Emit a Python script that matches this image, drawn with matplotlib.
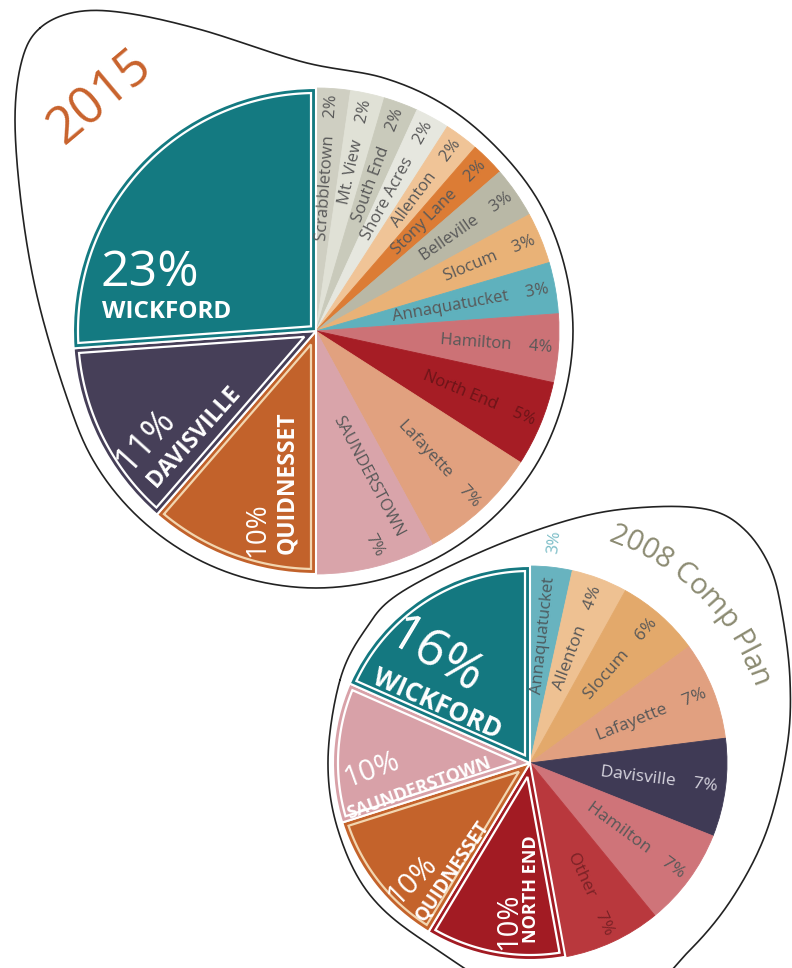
import numpy as np
import matplotlib
matplotlib.use('Agg')
import matplotlib.pyplot as plt
from matplotlib.patches import Polygon
from matplotlib.textpath import TextToPath
from matplotlib.font_manager import FontProperties

W, H = 792, 968
FONT = ['Open Sans', 'DejaVu Sans']

# 2015 shares by village (clockwise from 12 o'clock)
names_15 = ['Scrabbletown', 'Mt. View', 'South End', 'Shore Acres', 'Allenton',
            'Stony Lane', 'Belleville', 'Slocum', 'Annaquatucket', 'Hamilton',
            'North End', 'Lafayette', 'Saunderstown', 'Quidnesset', 'Davisville',
            'Wickford']
pct_15 = [2, 2, 2, 2, 2, 2, 3, 3, 3, 4, 5, 7, 7, 10, 11, 23]
colors_15 = ['#cfcfc2', '#e0e1d6', '#c9cabb', '#e6e7df', '#f0c497', '#dc7c35',
             '#b9b8a6', '#e9b277', '#5fb1bd', '#cc7276', '#a61d25', '#e1a17f',
             '#d9a4aa', '#c2622b', '#463f58', '#147a81']
big_15 = ['Quidnesset', 'Davisville', 'Wickford']

# 2008 Comp Plan shares
names_08 = ['Annaquatucket', 'Allenton', 'Slocum', 'Lafayette', 'Davisville',
            'Hamilton', 'Other', 'North End', 'Quidnesset', 'Saunderstown',
            'Wickford']
pct_08 = [3, 4, 6, 7, 7, 7, 7, 10, 10, 10, 16]
colors_08 = ['#68b3bf', '#eec192', '#e3a96b', '#e1a080', '#3f3a55', '#cf7479',
             '#b9383d', '#a21b23', '#c4632b', '#d8a1a8', '#147880']
big_08 = ['North End', 'Quidnesset', 'Saunderstown', 'Wickford']


def P(x, y):
    # pixel position (y down) -> data coords (y up)
    return x, H - y


def smooth_closed(pts, n=24):
    p = np.array([P(*q) for q in pts], float)
    N = len(p)
    t = np.linspace(0, 1, n, endpoint=False)[:, None]
    segs = []
    for i in range(N):
        p0, p1, p2, p3 = p[i - 1], p[i], p[(i + 1) % N], p[(i + 2) % N]
        segs.append(0.5 * (2 * p1 + (-p0 + p2) * t
                           + (2 * p0 - 5 * p1 + 4 * p2 - p3) * t ** 2
                           + (-p0 + 3 * p1 - 3 * p2 + p3) * t ** 3))
    out = np.vstack(segs)
    return np.vstack([out, out[:1]])


def inset_outline(ax, w, d, color, lw=1.6):
    t1, t2 = np.radians(w.theta1), np.radians(w.theta2)
    half, mid = (t2 - t1) / 2, (t1 + t2) / 2
    cx, cy = w.center
    R = w.r
    k = d / np.sin(half)
    apex = (cx + k * np.cos(mid), cy + k * np.sin(mid))
    da = np.arcsin(d / (R - d))
    a = np.linspace(t1 + da, t2 - da, 120)
    pts = [apex] + list(zip(cx + (R - d) * np.cos(a), cy + (R - d) * np.sin(a)))
    ax.add_patch(Polygon(pts, closed=True, fill=False, ec=color, lw=lw, zorder=3))


def radial_label(ax, w, center, r, text, color, fs=11):
    mid = np.radians((w.theta1 + w.theta2) / 2)
    x = center[0] + r * np.cos(mid)
    y = center[1] + r * np.sin(mid)
    ax.text(x, y, text, rotation=np.degrees(mid), rotation_mode='anchor',
            ha='right', va='center', fontsize=fs, color=color, family=FONT,
            zorder=4)


def draw_pie(ax, values, colors, center, R):
    wedges, _ = ax.pie(values, colors=colors, startangle=90, counterclock=False,
                       center=center, radius=R,
                       wedgeprops=dict(linewidth=0.6))
    for w in wedges:
        w.set_edgecolor(w.get_facecolor())
    return wedges


def label(x, y, s, fs, rot=0, weight='normal', color='white'):
    ax.text(*P(x, y), s, fontsize=fs, color=color, fontweight=weight,
            rotation=rot, ha='center', va='center', family=FONT, zorder=4)


fig = plt.figure(figsize=(7.92, 9.68), dpi=100)
ax = fig.add_axes([0, 0, 1, 1])

# outline blobs
blob_15 = [(40, 28), (76, 12), (126, 13), (202, 30), (303, 62), (384, 78),
           (446, 106), (498, 149), (539, 202), (564, 264), (573, 331),
           (564, 398), (539, 460), (498, 513), (444, 554), (383, 579), (316, 588),
           (249, 579), (188, 554), (134, 513), (93, 460), (66, 395), (38, 300),
           (22, 210), (15, 120), (22, 60)]
blob_08 = [(340, 680), (365, 630), (400, 593), (490, 548), (580, 517), (650, 507),
           (710, 510), (745, 530), (770, 567), (782, 613), (790, 680), (787, 747),
           (767, 830), (733, 897), (690, 950), (640, 990), (530, 1000), (430, 945),
           (370, 895), (338, 830), (328, 760)]
for blob in (blob_15, blob_08):
    b = smooth_closed(blob)
    ax.plot(b[:, 0], b[:, 1], color='#222222', lw=1.2, zorder=1)

# ---- 2015 pie ----
c15, R15 = P(316, 331), 243
w15 = draw_pie(ax, pct_15, colors_15, c15, R15)
for w, name, v in zip(w15, names_15, pct_15):
    if name in big_15:
        w.set_edgecolor('white')
        w.set_linewidth(1.5)
        w.set_zorder(2)
        oc = '#f2d6b0' if name == 'Quidnesset' else 'white'
        inset_outline(ax, w, 5, oc)
    elif name == 'Saunderstown':
        pass
    else:
        col = '#6b1418' if name == 'North End' else '#585858'
        radial_label(ax, w, c15, R15 * 0.975, f'{name}    {v}%', col, fs=12)

# large 2015 labels
label(150, 273, '23%', 36)
label(167, 312, 'WICKFORD', 17.5, weight='bold')
label(146, 441, '11%', 26, rot=48)
label(194, 437, 'DAVISVILLE', 16.5, rot=48, weight='bold')
label(257, 530, '10%', 20, rot=90)
label(287, 483, 'QUIDNESSET', 16.5, rot=90, weight='bold')
label(368, 477, 'SAUNDERSTOWN', 12, rot=-62, color='#585858')
label(374, 545, '7%', 12, rot=-62, color='#585858')
label(101, 98, '2015', 37, rot=40, color='#c8622c')

# ---- 2008 pie ----
c08, R08 = P(530, 763), 197
w08 = draw_pie(ax, pct_08, colors_08, c08, R08)
for w, name, v in zip(w08, names_08, pct_08):
    if name in big_08:
        w.set_edgecolor('white')
        w.set_linewidth(1.5)
        w.set_zorder(2)
        oc = '#f2d6b0' if name == 'Quidnesset' else 'white'
        inset_outline(ax, w, 5, oc)
    elif name == 'Annaquatucket':
        radial_label(ax, w, c08, R08 * 0.95, name, '#4d5a5e', fs=12)
        radial_label(ax, w, c08, R08 * 1.19, f'{v}%', '#79bcc6', fs=12)
    else:
        col = {'Davisville': '#d6d4de', 'Other': '#7a2226'}.get(name, '#585858')
        radial_label(ax, w, c08, R08 * 0.96, f'{name}    {v}%', col, fs=12.5)

label(435, 657, '16%', 37, rot=-31)
label(437, 704, 'WICKFORD', 18.5, rot=-24, weight='bold')
label(372, 770, '10%', 21, rot=20)
label(419, 788, 'SAUNDERSTOWN', 13, rot=20, weight='bold')
label(412, 880, '10%', 21, rot=45)
label(453, 871, 'QUIDNESSET', 13.5, rot=56, weight='bold')
label(509, 921, '10%', 21, rot=90)
label(531, 889, 'NORTH END', 13, rot=90, weight='bold')

# curved "2008 Comp Plan" title along the blob
title = '2008 Comp Plan'
tfs = 21
fp = FontProperties(family=FONT, size=tfs)
ttp = TextToPath()
base = ttp.get_text_width_height_descent('HH', fp, ismath=False)[0]
adv = [(ttp.get_text_width_height_descent('H' + ch + 'H', fp, ismath=False)[0] - base)
       * 100 / 72 for ch in title]
Rt = 243
total = sum(adv) / Rt
a0 = np.radians(44.5) + total / 2
pos = 0.0
for ch, a in zip(title, adv):
    ang = a0 - (pos + a / 2) / Rt
    pos += a
    ax.text(c08[0] + Rt * np.cos(ang), c08[1] + Rt * np.sin(ang), ch,
            rotation=np.degrees(ang) - 90, rotation_mode='anchor',
            ha='center', va='center', fontsize=tfs,
            color='#8c8b72', family=FONT, zorder=4)

ax.set_xlim(0, W)
ax.set_ylim(0, H)
ax.set_aspect('equal')
ax.axis('off')
fig.savefig('out.png', dpi=100, facecolor='white')
